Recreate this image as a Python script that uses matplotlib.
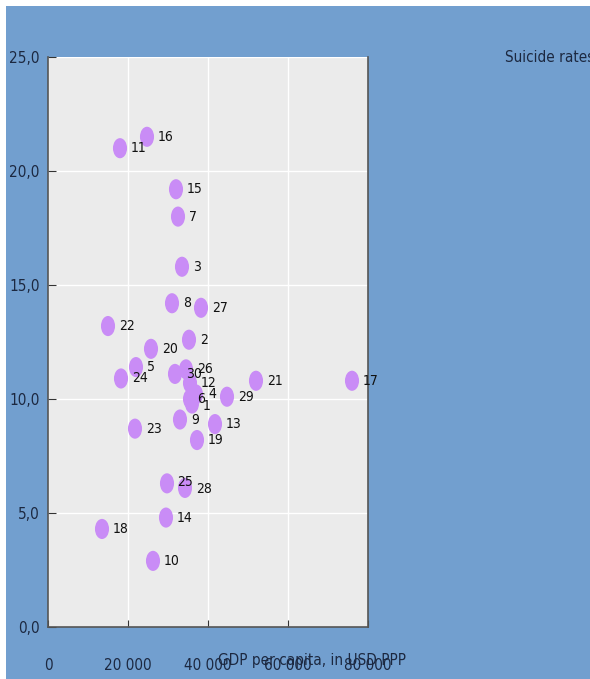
import numpy as np
import matplotlib
matplotlib.use("Agg")
import matplotlib.pyplot as plt
from matplotlib.path import Path
from matplotlib.patches import Rectangle
from matplotlib.ticker import FuncFormatter

# Dados: PIB per capita (USD PPP) e taxa de suicídio
ids = [1, 2, 3, 4, 5, 6, 7, 8, 9, 10,
       11, 12, 13, 14, 15, 16, 17, 18, 19, 20,
       21, 22, 23, 24, 25, 26, 27, 28, 29, 30]
gdp = [36000, 35250, 33500, 37000, 22000, 35500, 32500, 31000, 33000, 26250,
       18000, 35500, 41750, 29500, 32000, 24750, 76000, 13500, 37250, 25750,
       52000, 15000, 21750, 18250, 29750, 34500, 38250, 34250, 44750, 31750]
suicide = [9.8, 12.6, 15.8, 10.2, 11.4, 10.0, 18.0, 14.2, 9.1, 2.9,
           21.0, 10.7, 8.9, 4.8, 19.2, 21.5, 10.8, 4.3, 8.2, 12.2,
           10.8, 13.2, 8.7, 10.9, 6.3, 11.3, 14.0, 6.1, 10.1, 11.1]

# deslocamentos especiais de rótulos (pontos)
label_offsets = {25: (7, 1), 28: (8, -1), 6: (5, 0), 1: (8, -2), 4: (9, 0)}

BLUE = "#729fcf"
PANEL = "#ebebeb"
TEXT = "#1c2840"
POINT = "#c98cf6"

fig = plt.figure(figsize=(5.9, 6.79), dpi=100)
fig.patch.set_facecolor("white")
fig.patches.append(Rectangle((6 / 590, 0), 1, 1 - 6 / 679, transform=fig.transFigure,
                             facecolor=BLUE, edgecolor="none", zorder=-10))

ax = fig.add_axes([48 / 590, 1 - 627 / 679, 320 / 590, 570 / 679])
ax.set_facecolor(PANEL)

# Marcador elíptico (imagem esticada na vertical)
circ = Path.unit_circle()
ellipse = Path(circ.vertices * np.array([0.7, 1.0]), circ.codes)

ax.scatter(gdp, suicide, s=210, marker=ellipse, color=POINT, edgecolors="none", zorder=3)

font = dict(family="DejaVu Sans", stretch="condensed")
for i, x, y in zip(ids, gdp, suicide):
    off = label_offsets.get(i, (8, 0))
    ax.annotate(str(i), (x, y), xytext=off, textcoords="offset points",
                ha="left", va="center", fontsize=10, color="#111111", zorder=4, **font)

# Eixos
ax.set_xlim(0, 80000)
ax.set_ylim(0, 25)
ax.set_xticks([0, 20000, 40000, 60000, 80000])
ax.set_yticks([0, 5, 10, 15, 20, 25])
ax.xaxis.set_major_formatter(FuncFormatter(lambda v, p: f"{int(v):,}".replace(",", " ")))
ax.yaxis.set_major_formatter(FuncFormatter(lambda v, p: f"{v:.1f}".replace(".", ",")))
ax.grid(True, color="white", linewidth=1)
ax.set_axisbelow(True)
ax.tick_params(axis="x", direction="in", length=5, pad=22, colors="#333333",
               labelcolor=TEXT, labelsize=11)
ax.tick_params(axis="y", direction="in", length=6, pad=6, colors="#333333",
               labelcolor=TEXT, labelsize=11)
for lab in ax.get_xticklabels() + ax.get_yticklabels():
    lab.set_fontstretch("condensed")

for side in ["left", "bottom", "right"]:
    ax.spines[side].set_color("#555555")
    ax.spines[side].set_linewidth(1.2)
ax.spines["top"].set_visible(False)

ax.set_xlabel("GDP per capita, in USD PPP", fontsize=11, color=TEXT, **font)
ax.xaxis.set_label_coords(0.825, -0.058)
ax.xaxis.label.set_verticalalignment("center")

fig.text(505 / 590, 1 - 57 / 679, "Suicide rates", fontsize=11, color=TEXT,
         ha="left", va="center", **font)

fig.savefig("out.png", dpi=100, facecolor=fig.get_facecolor())
